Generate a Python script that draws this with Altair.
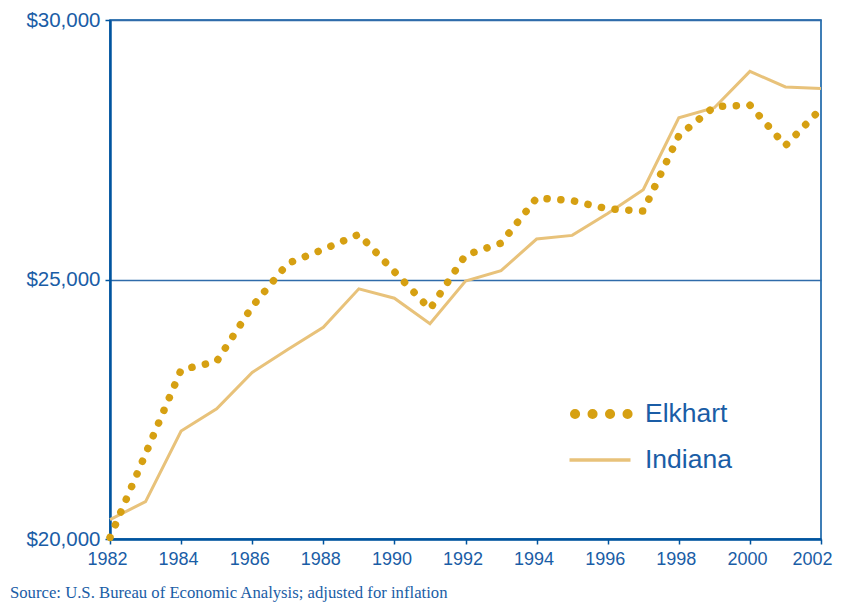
import altair as alt
import pandas as pd

years = list(range(1982, 2003))
elkhart = [20030, 21640, 23260, 23420, 24480, 25310, 25580, 25870, 25150, 24430,
           25470, 25700, 26570, 26520, 26360, 26320, 27770, 28330, 28360, 27580, 28290]
indiana = [20375, 20720, 22080, 22510, 23210, 23650, 24080, 24820, 24640, 24150,
           24970, 25170, 25780, 25850, 26270, 26730, 28115, 28310, 29010, 28710, 28680]
series_names = ["Elkhart", "Indiana"]
source_note = "Source: U.S. Bureau of Economic Analysis; adjusted for inflation"

BLUE = "#00549F"
TEXT_BLUE = "#1A5DA6"
ELK = "#D6A012"
IND = "#E8C27A"

df = pd.DataFrame({"year": years, "Elkhart": elkhart, "Indiana": indiana})
one = pd.DataFrame({"k": [0]})

x = alt.X("year:Q",
          scale=alt.Scale(domain=[1982, 2002], nice=False, zero=False),
          axis=alt.Axis(values=years, format="d",
                        labelExpr="datum.value % 2 == 0 ? datum.label : ''",
                        labelOffset={"condition": {"test": "datum.value == 2002", "value": -9},
                                     "value": -3},
                        title=None, grid=False, tickSize=5, tickWidth=1.5,
                        tickColor=BLUE, domainColor=BLUE, domainWidth=2.5,
                        labelFont="Liberation Sans", labelFontSize=18,
                        labelColor=TEXT_BLUE, labelPadding=6, labelFlush=False))

y_axis = alt.Axis(values=[20000, 25000, 30000], format="$,d", title=None,
                  grid=True, gridColor="#2F6BAA", gridWidth=1.5,
                  tickSize=5, tickWidth=1.5, tickColor=BLUE,
                  domainColor=BLUE, domainWidth=2.5,
                  labelFont="Liberation Sans", labelFontSize=20.5,
                  labelColor=TEXT_BLUE, labelPadding=5)

indiana_line = alt.Chart(df).mark_line(color=IND, strokeWidth=3).encode(
    x=x,
    y=alt.Y("Indiana:Q", scale=alt.Scale(domain=[20000, 30000], nice=False, zero=False),
            axis=y_axis),
)

elkhart_line = alt.Chart(df).mark_line(
    color=ELK, strokeWidth=7.5, strokeDash=[0.1, 13.7], strokeCap="round"
).encode(x="year:Q", y="Elkhart:Q")

leg_dots = alt.Chart(one).mark_rule(
    color=ELK, strokeWidth=10, strokeDash=[0.1, 17.4], strokeCap="round"
).encode(x=alt.value(465), x2=alt.value(519), y=alt.value(394))

leg_line = alt.Chart(one).mark_rule(color=IND, strokeWidth=3.5).encode(
    x=alt.value(459.5), x2=alt.value(520.5), y=alt.value(440))

leg_text = alt.Chart(pd.DataFrame({"name": series_names, "ypos": [393.5, 439.5]})).mark_text(
    align="left", baseline="middle", font="Liberation Sans", fontSize=26.5, color=TEXT_BLUE
).encode(x=alt.value(535), y=alt.Y("ypos:Q", scale=None), text="name:N")

src = alt.Chart(one).mark_text(
    align="left", baseline="middle", font="Liberation Serif", fontSize=16.7, color=TEXT_BLUE
).encode(x=alt.value(-100), y=alt.value(573), text=alt.value(source_note))

chart = alt.layer(indiana_line, elkhart_line, leg_dots, leg_line, leg_text, src).properties(
    width=711, height=519,
    autosize=alt.AutoSizeParams(type="none"),
    padding={"left": 102, "top": 12, "right": 13, "bottom": 66},
).configure_view(stroke=BLUE, strokeWidth=1.5)

chart.save("out.html", embed_options={"renderer": "svg", "actions": False})
